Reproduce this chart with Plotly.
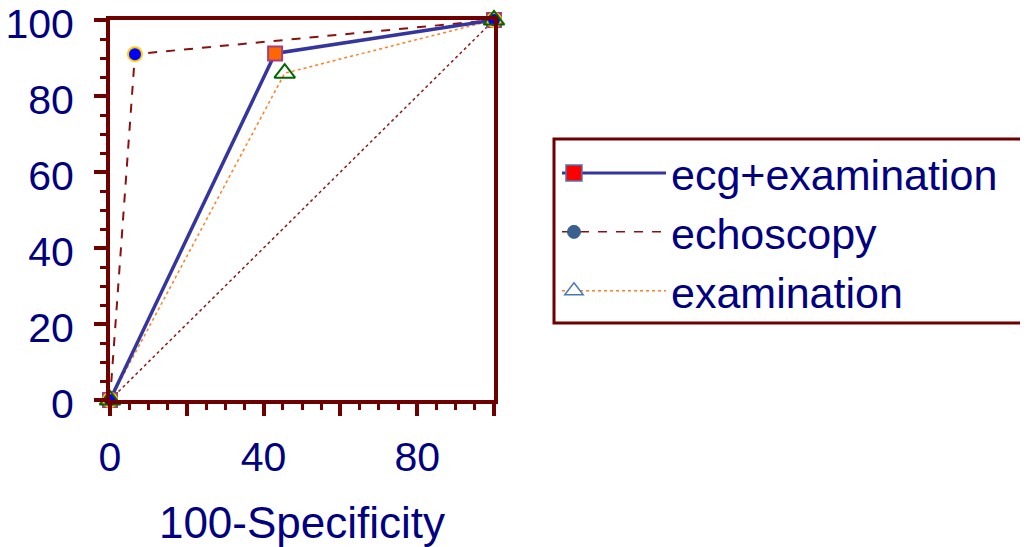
import plotly.graph_objects as go

# Data
series_names = ["ecg+examination", "echoscopy", "examination"]
ecg_x = [0, 43, 100]
ecg_y = [0, 91.2, 100]
echo_x = [0, 6.5, 100]
echo_y = [0, 91, 100]
exam_x = [0, 45.5, 100]
exam_y = [0, 86, 100]
diag_x = [0, 100]
diag_y = [0, 100]
x_tickvals = [0, 20, 40, 60, 80, 100]
x_ticktext = ["0", "", "40", "", "80", ""]
y_tickvals = [0, 20, 40, 60, 80, 100]
y_ticktext = ["0", "20", "40", "60", "80", "100"]

AX = "#6e0000"
TXT = "#000080"
FONT = "Liberation Sans, Arial, sans-serif"

fig = go.Figure()

# diagonal reference
fig.add_trace(go.Scatter(x=diag_x, y=diag_y, mode="lines",
                         line=dict(color="#8b1a1a", width=1.5, dash="dot"),
                         showlegend=False, hoverinfo="skip"))
# examination
fig.add_trace(go.Scatter(x=exam_x, y=exam_y, mode="lines",
                         line=dict(color="#ff7f20", width=1.5, dash="dot"),
                         showlegend=False, cliponaxis=False))
# echoscopy
fig.add_trace(go.Scatter(x=echo_x, y=echo_y, mode="lines",
                         line=dict(color="#8b1010", width=2, dash="dash"),
                         showlegend=False, cliponaxis=False))
# ecg+examination
fig.add_trace(go.Scatter(x=ecg_x, y=ecg_y, mode="lines+markers",
                         line=dict(color="#3535a0", width=3.5),
                         marker=dict(symbol="square", size=14, color="#ff6600",
                                     line=dict(color="#a04080", width=2)),
                         showlegend=False, cliponaxis=False))
# echoscopy markers
fig.add_trace(go.Scatter(x=echo_x, y=echo_y, mode="markers",
                         marker=dict(symbol="circle", size=14, color="#0000ff",
                                     line=dict(color="#ffcc00", width=2)),
                         showlegend=False, cliponaxis=False))
# examination markers
fig.add_trace(go.Scatter(x=exam_x, y=exam_y, mode="markers",
                         marker=dict(symbol="triangle-up", size=18, color="rgba(255,255,255,0)",
                                     line=dict(color="#006600", width=2)),
                         showlegend=False, cliponaxis=False))

# legend entries: lines with text (legend), markers (legend2)
leg_lines = [dict(color="#3535a0", width=3),
             dict(color="#8b1010", width=1.5, dash="dash"),
             dict(color="#ff7f20", width=1.5, dash="dot")]
leg_markers = [dict(symbol="square", size=22, color="#ff0000", line=dict(color="#4a7ab0", width=1.5)),
               dict(symbol="circle", size=13, color="#3a6090", line=dict(color="#3a6090", width=1)),
               dict(symbol="triangle-up", size=30, color="white", line=dict(color="#4a7ab0", width=1.5))]
for name, ln in zip(series_names, leg_lines):
    fig.add_trace(go.Scatter(x=[None], y=[None], mode="lines", name=name,
                             line=ln, legend="legend"))
for mk in leg_markers:
    fig.add_trace(go.Scatter(x=[None], y=[None], mode="markers", name="\u00a0",
                             marker=mk, legend="legend2"))

# legend frame (runs past the right edge as in the reference)
fig.add_shape(type="rect", xref="paper", yref="paper",
              x0=1.15625, x1=2.6, y0=0.2026, y1=0.6868,
              line=dict(color=AX, width=3), fillcolor="white", layer="below")

fig.update_layout(
    width=1020, height=539,
    margin=dict(l=102, r=534, t=12, b=147, autoexpand=False),
    paper_bgcolor="white", plot_bgcolor="white",
    font=dict(family=FONT, color=TXT, size=41),
    legend=dict(x=1.15625, y=0.696, xanchor="left", yanchor="top",
                bordercolor="rgba(0,0,0,0)", borderwidth=3, bgcolor="rgba(0,0,0,0)",
                font=dict(size=43, color=TXT, family=FONT),
                itemwidth=104, tracegroupgap=0),
    legend2=dict(x=1.1484, y=0.696, xanchor="left", yanchor="top",
                 bordercolor="rgba(0,0,0,0)", borderwidth=3, bgcolor="rgba(0,0,0,0)",
                 font=dict(size=43, color="rgba(0,0,0,0)", family=FONT),
                 itemwidth=30, tracegroupgap=0),
)
fig.update_xaxes(range=[0, 100], tickmode="array", tickvals=x_tickvals, ticktext=x_ticktext,
                 showline=True, linecolor=AX, linewidth=4, mirror=True,
                 ticks="outside", ticklen=12, tickwidth=4, tickcolor=AX,
                 minor=dict(dtick=5, ticks="outside", ticklen=6, tickwidth=3, tickcolor=AX),
                 showgrid=False, zeroline=False, ticklabelstandoff=6, automargin=False,
                 ticklabeloverflow="allow",
                 tickfont=dict(size=41, color=TXT, family=FONT),
                 title=dict(text="100-Specificity", font=dict(size=44, color=TXT, family=FONT), standoff=29))
fig.update_yaxes(range=[0, 100], tickmode="array", tickvals=y_tickvals, ticktext=y_ticktext,
                 showline=True, linecolor=AX, linewidth=4, mirror=True,
                 ticks="outside", ticklen=12, tickwidth=4, tickcolor=AX,
                 minor=dict(dtick=5, ticks="outside", ticklen=6, tickwidth=3, tickcolor=AX),
                 showgrid=False, zeroline=False, ticklabelstandoff=12, ticklabelshift=4,
                 automargin=False, ticklabeloverflow="allow",
                 tickfont=dict(size=41, color=TXT, family=FONT))

fig.write_html("out.html")
